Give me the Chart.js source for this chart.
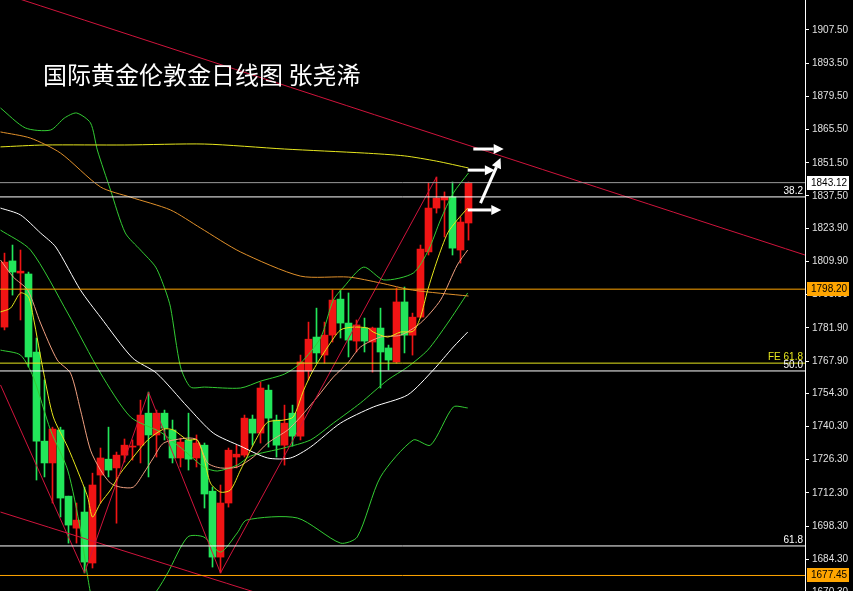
<!DOCTYPE html>
<html>
<head>
<meta charset="utf-8">
<script src="https://cdn.jsdelivr.net/npm/chart.js@4.4.0/dist/chart.umd.min.js"></script>
<style>
  body { margin: 0; background: #000; overflow: hidden; }
  #wrap { position: relative; width: 853px; height: 591px; }
  #title { position: absolute; left: 43px; top: 62px; color: #fff; font-size: 24px; line-height: 24px;
           font-family: "Noto Sans CJK SC", sans-serif; white-space: nowrap; }
</style>
</head>
<body>
<div id="wrap">
  <canvas id="kChart" width="853" height="591"></canvas>
  <div id="title">国际黄金伦敦金日线图 张尧浠</div>
</div>
<script>
// daily candles, index 0..58
const opens  = [1782.2,1810.1,1805.0,1804.6,1771.7,1734.1,1724.9,1738.8,1710.9,1697.4,1704.2,1682.7,1719.8,1726.5,1722.8,1728.2,1731.6,1732.4,1745.9,1736.7,
                1745.9,1738.8,1727.0,1734.6,1727.0,1732.4,1713.0,1685.2,1708.0,1727.4,1728.2,1743.4,1737.5,1755.6,1743.0,1732.4,1745.9,1736.2,1763.7,1778.0,
                1770.4,1778.8,1794.0,1783.9,1776.3,1781.8,1775.9,1781.8,1773.4,1767.5,1792.8,1778.8,1786.4,1813.9,1832.4,1835.8,1837.1,1814.7,1826.1];
const closes = [1809.6,1805.4,1805.8,1769.6,1734.1,1724.9,1739.2,1710.1,1698.7,1700.8,1683.1,1715.6,1727.0,1721.9,1728.2,1732.4,1732.0,1745.1,1736.7,1745.9,
                1739.6,1727.0,1733.7,1726.5,1733.3,1711.8,1685.2,1708.0,1730.3,1728.6,1743.8,1737.5,1756.5,1743.8,1732.4,1741.7,1736.2,1767.5,1777.1,1771.3,
                1778.8,1793.6,1783.9,1776.7,1783.1,1776.3,1781.8,1771.7,1768.3,1792.8,1778.8,1786.4,1815.1,1832.4,1836.6,1837.1,1815.5,1826.5,1843.12];
const highs  = [1813.4,1816.8,1814.7,1805.4,1777.6,1759.9,1740.0,1740.0,1710.9,1708.0,1714.7,1720.6,1731.2,1740.0,1729.5,1735.0,1734.6,1751.4,1754.8,1747.2,
                1747.2,1743.0,1735.4,1745.9,1736.7,1733.3,1714.7,1715.6,1731.2,1732.4,1745.1,1745.1,1759.0,1757.8,1745.1,1749.3,1749.3,1770.4,1784.3,1790.2,
                1784.3,1797.8,1797.8,1796.6,1785.2,1786.0,1782.2,1790.2,1774.6,1798.7,1799.1,1788.1,1816.8,1843.0,1845.5,1839.2,1843.4,1828.6,1843.4];
const lows   = [1781.0,1795.7,1785.2,1765.4,1717.7,1719.0,1708.0,1702.1,1691.1,1691.1,1678.5,1680.6,1708.0,1719.0,1699.5,1725.3,1726.1,1724.9,1719.0,1727.4,
                1734.6,1724.9,1723.2,1721.9,1723.2,1705.9,1681.0,1678.5,1706.3,1722.8,1727.4,1732.4,1733.3,1731.6,1727.4,1724.0,1732.0,1734.6,1759.9,1767.0,
                1767.0,1775.9,1777.6,1769.6,1771.7,1771.7,1763.2,1756.5,1764.1,1767.0,1771.3,1770.4,1786.0,1812.6,1830.3,1820.2,1812.6,1809.2,1818.9];

// moving averages / bands, sampled at bar index
const ma5X  = [-0.5,0.75,2,3,3.6,4.9,6.1,7.9,9.1,10.4,11,12,13.25,14.5,16.1,17.9,19.9,21.1,22.9,24.1,24.9,25.75,27,28.25,29.5,31.6,32.9,34.9,36.1,37.4,38.6,40.4,42,43.6,45.4,46.1,47.9,49.5,51.1,52,52.9,54.1,55.4,56.6,57.9];
const ma5Y  = [1788.6,1790.2,1796.6,1794.9,1786.4,1762.8,1744.3,1731.6,1721.9,1710.5,1702.1,1708.0,1713.5,1720.6,1727.4,1734.6,1739.2,1738.8,1734.6,1734.6,1727.4,1716.4,1712.6,1713.5,1721.9,1735.8,1742.1,1743.0,1744.3,1755.6,1764.1,1773.8,1781.0,1782.2,1781.8,1780.1,1778.0,1780.1,1780.5,1786.4,1797.8,1810.5,1821.9,1827.4,1832.4];
const ma10X = [-0.5,1.1,2.9,4.5,6.6,8.25,9.5,10.75,12,13.25,14.5,16.1,17.4,18.6,19.9,22.9,24.1,25.4,27,29.1,31.1,32.9,35.4,37,39.1,41.1,42.9,44.5,47,49.5,52,54.5,56.6,57.9];
const ma10Y = [1810.5,1803.3,1797.8,1783.9,1768.3,1762.8,1747.2,1730.3,1721.9,1716.4,1714.7,1714.7,1720.6,1727.0,1733.3,1735.4,1734.6,1724.9,1722.8,1723.2,1727.4,1733.3,1738.8,1744.3,1752.7,1761.1,1767.0,1773.8,1778.0,1778.8,1783.9,1793.6,1808.4,1814.7];
const ma30X = [-0.5,2,4.5,6.4,9.5,12,16,19,22.9,26.1,29.5,32.9,35.75,38.25,42,46.1,50.4,53.6,56.1,57.9];
const ma30Y = [1832.4,1829.5,1821.9,1816.0,1797.8,1786.4,1769.2,1762.8,1748.5,1737.5,1732.0,1727.0,1727.0,1731.6,1741.7,1748.5,1753.6,1764.1,1773.8,1780.1];
const ma60X = [-0.5,3.25,7,12,15.75,20.75,24.5,29.5,37,43,47,51,58];
const ma60Y = [1864.5,1861.9,1855.6,1841.3,1837.0,1831.6,1824.0,1813.9,1803.7,1803.3,1800.8,1797.8,1795.3];
const ma200X = [-0.5,5,15,25,35,45,50,54,58];
const ma200Y = [1858.2,1859.0,1859.0,1859.4,1857.3,1855.6,1854.4,1852.2,1849.3];
const bbUpX = [-0.5,2.6,5.75,7.5,9,10.75,11.6,13.25,15.1,17,18.9,20.1,20.75,22,23.25,25,29.5,32,35,37,39.5,41.1,42.4,44.9,47.4,51.1,53,54.5,56.1,58];
const bbUpY = [1874.6,1866.2,1865.3,1870.4,1872.5,1868.3,1856.9,1840.0,1821.9,1814.7,1807.5,1797.8,1790.6,1765.4,1756.9,1756.9,1756.5,1759.4,1762.4,1767.0,1777.6,1793.6,1799.1,1807.5,1802.1,1805.0,1814.7,1827.4,1838.7,1847.2];
const bbMidX = [-0.5,3.25,7.9,12,15.75,19.5,22.4,24.9,26.6,29.1,30.75,34.9,38.25,41.1,44.5,47.9,50.4,52.9,55.4,57.9];
const bbMidY = [1823.1,1814.7,1788.1,1762.8,1744.3,1737.9,1730.3,1723.2,1721.5,1724.0,1727.8,1731.2,1734.6,1741.7,1750.2,1759.9,1765.4,1772.5,1783.9,1796.6];
const bbLowX = [-0.5,2,3.6,5.75,7.9,9.5,10.4,11,13,16,19.1,20.4,22.9,24.9,27,29.1,30.25,36.6,42,44.1,47,51.1,53.25,56.1,57.9];
const bbLowY = [1772.5,1770.4,1761.1,1738.8,1721.9,1696.6,1676.8,1667.1,1655,1658,1671.3,1678.5,1693.7,1693.7,1687.3,1695.4,1700.8,1701.7,1691.1,1693.7,1719.0,1734.6,1732.4,1748.5,1748.1];

// hand drawn lines
const zigX = [-0.5,10,18,27,54];
const zigY = [1757.8,1678.5,1754.8,1678.5,1845.5];
const trendTopX = [-0.5,100.06];
const trendTopY = [1923.2,1812.6];
const trendLowX = [-0.5,36];
const trendLowY = [1704.2,1665.4];

// horizontal levels
const levelPrices = [1843.12,1837.1,1798.2,1767.0,1763.7,1689.9,1677.45];
const levelNames  = ['last','38.2','price','FE 61.8','50.0','61.8','price'];
const axisTags    = ['1843.12','','1798.20','','','','1677.45'];

// arrows (bar index, price)
const arrowFromX = [58.6,57.9,59.5,57.9];
const arrowFromY = [1857.3,1848.4,1834.5,1831.6];
const arrowToX   = [62.4,61.3,62.0,62.1];
const arrowToY   = [1857.3,1848.4,1853.5,1831.6];

const tickValues = [1921.50,1907.50,1893.50,1879.50,1865.50,1851.50,1837.50,1823.90,1809.90,1795.90,1781.90,1767.90,1754.30,1740.30,1726.30,1712.30,1698.30,1684.30,1670.30];

const RED = '#f01414', GREEN = '#22e65a';
const candleColors = closes.map((c, i) => c >= opens[i] ? RED : GREEN);
const toPts = (xs, ys) => xs.map((x, i) => ({x: x, y: ys[i]}));
const line = (xs, ys, color, w) => ({
  type: 'line', data: toPts(xs, ys), borderColor: color, borderWidth: w || 1,
  pointRadius: 0, fill: false, tension: 0.25
});

const levelColor = name => {
  if (name === 'last') return '#9a9a9a';
  if (name === 'price') return '#ffa500';
  if (name.startsWith('FE')) return '#e6e61e';
  return '#ffffff';
};

const datasets = [];
levelPrices.forEach((p, i) => {
  datasets.push({type: 'line', data: [{x: -0.6, y: p}, {x: 100.1, y: p}],
    borderColor: levelColor(levelNames[i]), borderWidth: 1, pointRadius: 0, tension: 0});
});
datasets.push(line(trendTopX, trendTopY, '#d0143c'));
datasets.push(line(trendLowX, trendLowY, '#d0143c'));
datasets.push({...line(zigX, zigY, '#d0143c'), tension: 0});
datasets.push(line(ma5X, ma5Y, '#e6e61a'));
datasets.push(line(ma10X, ma10Y, '#f0a080'));
datasets.push(line(ma30X, ma30Y, '#ffffff'));
datasets.push(line(ma60X, ma60Y, '#e0902a'));
datasets.push(line(ma200X, ma200Y, '#e6e61e'));
datasets.push(line(bbUpX, bbUpY, '#33cc33'));
datasets.push(line(bbMidX, bbMidY, '#33cc33'));
datasets.push(line(bbLowX, bbLowY, '#33cc33'));
datasets.push({type: 'bar', data: opens.map((o, i) => ({x: i, y: [o, closes[i]]})),
  backgroundColor: candleColors, barThickness: 7, minBarLength: 1, grouped: false});
datasets.push({type: 'bar', data: highs.map((h, i) => ({x: i, y: [lows[i], h]})),
  backgroundColor: candleColors, barThickness: 1, grouped: false});

const overlay = {
  id: 'overlay',
  afterDraw(chart) {
    const c = chart.ctx, xs = chart.scales.x, ys = chart.scales.y;
    const right = chart.chartArea.right;
    c.save();
    // level captions
    c.font = '10px "Liberation Sans", Arial';
    c.textAlign = 'right';
    c.textBaseline = 'bottom';
    levelPrices.forEach((p, i) => {
      const n = levelNames[i];
      if (n === 'last' || n === 'price') return;
      c.fillStyle = levelColor(n);
      c.fillText(n, right - 2, ys.getPixelForValue(p) - 1);
    });
    // price tags on the axis
    c.textAlign = 'left';
    c.textBaseline = 'middle';
    axisTags.forEach((t, i) => {
      if (!t) return;
      const y = Math.round(ys.getPixelForValue(levelPrices[i]));
      c.fillStyle = levelNames[i] === 'last' ? '#ffffff' : '#ffa500';
      c.fillRect(right + 2, y - 7, 42, 14);
      c.fillStyle = '#000';
      c.fillText(t, right + 6, y);
    });
    // arrows
    c.strokeStyle = '#fff';
    c.fillStyle = '#fff';
    c.lineWidth = 3;
    arrowFromX.forEach((fx, i) => {
      const x0 = xs.getPixelForValue(fx), y0 = ys.getPixelForValue(arrowFromY[i]);
      const x1 = xs.getPixelForValue(arrowToX[i]), y1 = ys.getPixelForValue(arrowToY[i]);
      const a = Math.atan2(y1 - y0, x1 - x0), L = 10, W = 5;
      const bx = x1 - L * Math.cos(a), by = y1 - L * Math.sin(a);
      c.beginPath(); c.moveTo(x0, y0); c.lineTo(bx, by); c.stroke();
      c.beginPath();
      c.moveTo(x1, y1);
      c.lineTo(bx + W * Math.sin(a), by - W * Math.cos(a));
      c.lineTo(bx - W * Math.sin(a), by + W * Math.cos(a));
      c.closePath(); c.fill();
    });
    c.restore();
  }
};

new Chart(document.getElementById('kChart').getContext('2d'), {
  type: 'bar',
  data: {datasets: datasets},
  options: {
    responsive: false,
    animation: false,
    layout: {padding: 0},
    plugins: {legend: {display: false}, tooltip: {enabled: false}},
    scales: {
      x: {type: 'linear', min: -0.5625, max: 100.0625, offset: false, display: false},
      y: {
        position: 'right', min: 1670.9, max: 1920.15,
        afterBuildTicks: s => { s.ticks = tickValues.map(v => ({value: v})); },
        afterFit: s => { s.width = 48; s.paddingTop = 0; s.paddingBottom = 0; },
        ticks: {color: '#e0e0e0', font: {family: 'Liberation Sans', size: 10}, padding: 3,
                autoSkip: false, callback: v => v.toFixed(2)},
        grid: {drawOnChartArea: false, drawTicks: true, tickLength: 4, color: '#ffffff'},
        border: {color: '#ffffff', width: 1}
      }
    }
  },
  plugins: [overlay]
});
</script>
</body>
</html>
